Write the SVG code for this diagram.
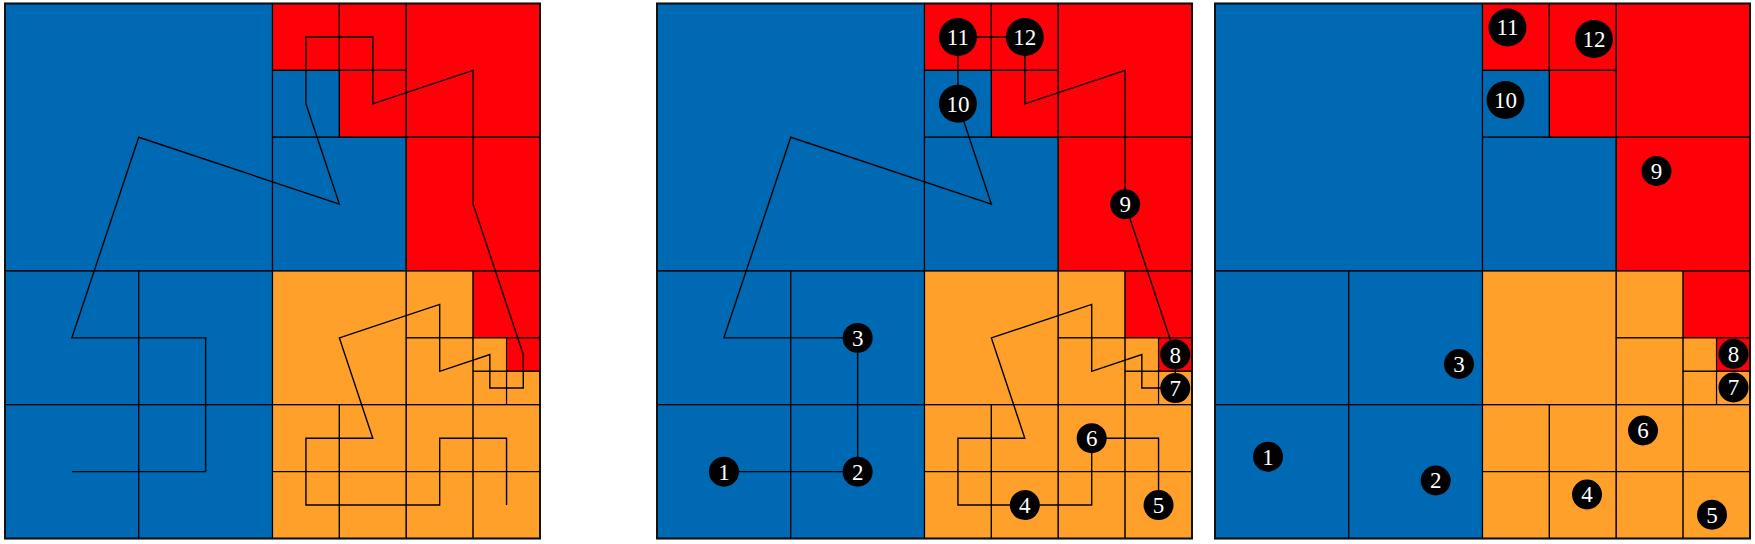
<svg xmlns="http://www.w3.org/2000/svg" width="1755" height="544" viewBox="0 0 1755 544">
<style>
.b{fill:#0069b4;stroke:#000;stroke-width:1.2}
.r{fill:#ff0008;stroke:#000;stroke-width:1.2}
.o{fill:#ffa02a;stroke:#000;stroke-width:1.2}
.frame{fill:none;stroke:#111;stroke-width:2}
.curve{fill:none;stroke:#000;stroke-width:1.4;stroke-linejoin:miter}
.node circle{fill:#000}
.node text{fill:#fff;font-family:"Liberation Serif","DejaVu Serif",serif;font-size:23px;text-anchor:middle}
</style>
<defs>
<g id="grid">
<rect class="b" x="0" y="0" width="267.5" height="267.5"/>
<rect class="r" x="267.5" y="0" width="66.875" height="66.875"/>
<rect class="r" x="334.375" y="0" width="66.875" height="66.875"/>
<rect class="b" x="267.5" y="66.875" width="66.875" height="66.875"/>
<rect class="r" x="334.375" y="66.875" width="66.875" height="66.875"/>
<rect class="r" x="401.25" y="0" width="133.75" height="133.75"/>
<rect class="b" x="267.5" y="133.75" width="133.75" height="133.75"/>
<rect class="r" x="401.25" y="133.75" width="133.75" height="133.75"/>
<rect class="b" x="0" y="267.5" width="133.75" height="133.75"/>
<rect class="b" x="133.75" y="267.5" width="133.75" height="133.75"/>
<rect class="b" x="0" y="401.25" width="133.75" height="133.75"/>
<rect class="b" x="133.75" y="401.25" width="133.75" height="133.75"/>
<rect class="o" x="267.5" y="267.5" width="133.75" height="133.75"/>
<rect class="o" x="401.25" y="267.5" width="66.875" height="66.875"/>
<rect class="r" x="468.125" y="267.5" width="66.875" height="66.875"/>
<rect class="o" x="401.25" y="334.375" width="66.875" height="66.875"/>
<rect class="o" x="468.125" y="334.375" width="33.4375" height="33.4375"/>
<rect class="r" x="501.5625" y="334.375" width="33.4375" height="33.4375"/>
<rect class="o" x="468.125" y="367.8125" width="33.4375" height="33.4375"/>
<rect class="o" x="501.5625" y="367.8125" width="33.4375" height="33.4375"/>
<rect class="o" x="267.5" y="401.25" width="66.875" height="66.875"/>
<rect class="o" x="334.375" y="401.25" width="66.875" height="66.875"/>
<rect class="o" x="401.25" y="401.25" width="66.875" height="66.875"/>
<rect class="o" x="468.125" y="401.25" width="66.875" height="66.875"/>
<rect class="o" x="267.5" y="468.125" width="66.875" height="66.875"/>
<rect class="o" x="334.375" y="468.125" width="66.875" height="66.875"/>
<rect class="o" x="401.25" y="468.125" width="66.875" height="66.875"/>
<rect class="o" x="468.125" y="468.125" width="66.875" height="66.875"/>
<rect class="frame" x="0" y="0" width="535" height="535"/>
</g>
<polyline id="path" class="curve" points="66.88,468.13 200.63,468.13 200.63,334.38 66.88,334.38 133.75,133.75 334.38,200.63 300.94,100.31 300.94,33.44 367.81,33.44 367.81,100.31 468.13,66.88 468.13,200.63 518.28,351.09 518.28,384.53 484.84,384.53 484.84,351.09 434.69,367.81 434.69,300.94 334.38,334.38 367.81,434.69 300.94,434.69 300.94,501.56 434.69,501.56 434.69,434.69 501.56,434.69 501.56,501.56"/>
</defs>
<g id="panels">
<use href="#grid" transform="translate(5,3.5)"/>
<use href="#grid" transform="translate(657,3.5)"/>
<use href="#grid" transform="translate(1215,3.5)"/>
</g>
<g id="connectors">
<use href="#path" transform="translate(5,3.5)"/>
<use href="#path" transform="translate(657,3.5)"/>
</g>
<g id="nodes-panel2" transform="translate(657,3.5)">
<g id="p2n1" class="node"><circle cx="66.88" cy="468.13" r="15"/><text x="66.88" y="476">1</text></g>
<g id="p2n2" class="node"><circle cx="200.63" cy="468.13" r="15"/><text x="200.63" y="476">2</text></g>
<g id="p2n3" class="node"><circle cx="200.63" cy="334.38" r="15"/><text x="200.63" y="342.3">3</text></g>
<g id="p2n4" class="node"><circle cx="367.81" cy="501.56" r="15"/><text x="367.81" y="509.5">4</text></g>
<g id="p2n5" class="node"><circle cx="501.56" cy="501.56" r="15"/><text x="501.56" y="509.5">5</text></g>
<g id="p2n6" class="node"><circle cx="434.69" cy="434.69" r="15"/><text x="434.69" y="442.6">6</text></g>
<g id="p2n7" class="node"><circle cx="518.28" cy="384.53" r="15"/><text x="518.28" y="392.4">7</text></g>
<g id="p2n8" class="node"><circle cx="518.28" cy="351.09" r="15"/><text x="518.28" y="359">8</text></g>
<g id="p2n9" class="node"><circle cx="468.13" cy="200.63" r="15"/><text x="468.13" y="208.5">9</text></g>
<g id="p2n10" class="node"><circle cx="300.94" cy="100.31" r="19"/><text x="300.94" y="108.2">10</text></g>
<g id="p2n11" class="node"><circle cx="300.94" cy="33.44" r="19"/><text x="300.94" y="41.3">11</text></g>
<g id="p2n12" class="node"><circle cx="367.81" cy="33.44" r="19"/><text x="367.81" y="41.3">12</text></g>
</g>
<g id="nodes-panel3">
<g id="p3n1" class="node"><circle cx="1268" cy="456.7" r="15"/><text x="1268" y="464.6">1</text></g>
<g id="p3n2" class="node"><circle cx="1435.7" cy="480.5" r="15"/><text x="1435.7" y="488.4">2</text></g>
<g id="p3n3" class="node"><circle cx="1459" cy="364" r="15"/><text x="1459" y="371.9">3</text></g>
<g id="p3n4" class="node"><circle cx="1587" cy="494.5" r="15"/><text x="1587" y="502.4">4</text></g>
<g id="p3n5" class="node"><circle cx="1712" cy="514.7" r="15"/><text x="1712" y="522.6">5</text></g>
<g id="p3n6" class="node"><circle cx="1643" cy="430.5" r="15"/><text x="1643" y="438.4">6</text></g>
<g id="p3n7" class="node"><circle cx="1733.5" cy="387.5" r="15"/><text x="1733.5" y="395.4">7</text></g>
<g id="p3n8" class="node"><circle cx="1733.5" cy="354" r="15"/><text x="1733.5" y="361.9">8</text></g>
<g id="p3n9" class="node"><circle cx="1656.5" cy="171" r="15"/><text x="1656.5" y="178.9">9</text></g>
<g id="p3n10" class="node"><circle cx="1505.5" cy="100" r="19"/><text x="1505.5" y="107.9">10</text></g>
<g id="p3n11" class="node"><circle cx="1507.5" cy="27.5" r="19"/><text x="1507.5" y="35.4">11</text></g>
<g id="p3n12" class="node"><circle cx="1594" cy="39" r="19"/><text x="1594" y="46.9">12</text></g>
</g>
</svg>
